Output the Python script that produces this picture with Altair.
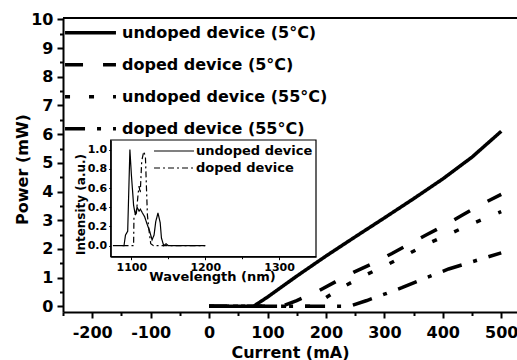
import altair as alt
import pandas as pd

# ---- main data: output power vs current ----
series_names = ["undoped device (5°C)", "doped device (5°C)",
                "undoped device (55°C)", "doped device (55°C)"]

cur_undoped5 = [0, 76, 100, 150, 200, 250, 300, 350, 400, 450, 500]
pow_undoped5 = [0, 0, 0.32, 1.05, 1.75, 2.42, 3.08, 3.75, 4.44, 5.2, 6.1]

cur_doped5 = [0, 125, 150, 184, 216, 247, 276, 313, 339, 373, 398, 433, 461, 500]
pow_doped5 = [0, 0, 0.2, 0.5, 0.85, 1.18, 1.45, 1.84, 2.13, 2.5, 2.77, 3.17, 3.5, 3.9]

cur_undoped55 = [0, 180, 200, 225, 261, 300, 337, 371, 409, 447, 500]
pow_undoped55 = [0, 0, 0.3, 0.63, 1.02, 1.4, 1.78, 2.15, 2.5, 2.85, 3.3]

cur_doped55 = [0, 240, 270, 300, 330, 370, 410, 450, 500]
pow_doped55 = [0, 0, 0.2, 0.42, 0.65, 0.98, 1.3, 1.55, 1.86]

x_ticks = [-250, -200, -150, -100, -50, 0, 50, 100, 150, 200, 250, 300, 350, 400, 450, 500]
y_ticks = [0, 0.5, 1, 1.5, 2, 2.5, 3, 3.5, 4, 4.5, 5, 5.5, 6, 6.5, 7, 7.5, 8, 8.5, 9, 9.5, 10]

# ---- inset data: emission spectra ----
inset_names = ["undoped device", "doped device"]
wl_undoped = [1075, 1090, 1092, 1095, 1098, 1100, 1102, 1103, 1105.4, 1107.7, 1110.4,
              1112.2, 1115, 1118, 1121, 1124.8, 1128, 1130.7, 1133, 1136, 1139,
              1140.7, 1143.8, 1147, 1150, 1200]
int_undoped = [0, 0, 0.11, 0.15, 1.0, 0.74, 0.53, 0.42, 0.32, 0.4, 0.36,
               0.38, 0.34, 0.3, 0.23, 0.15, 0.06, 0.11, 0.25, 0.34, 0.24,
               0.08, 0.0, 0.02, 0, 0]
wl_doped = [1088, 1103, 1103.5, 1106.8, 1109, 1110.4, 1112, 1114, 1116.7, 1119,
            1120.3, 1121.7, 1124, 1126.2, 1130, 1200]
int_doped = [0, 0, 0.3, 0.34, 0.53, 0.62, 0.55, 0.88, 0.98, 0.93,
             0.63, 0.32, 0.15, 0.02, 0, 0]

main_df = pd.concat([
    pd.DataFrame({"current": cur_undoped5, "power": pow_undoped5, "series": series_names[0]}),
    pd.DataFrame({"current": cur_doped5, "power": pow_doped5, "series": series_names[1]}),
    pd.DataFrame({"current": cur_undoped55, "power": pow_undoped55, "series": series_names[2]}),
    pd.DataFrame({"current": cur_doped55, "power": pow_doped55, "series": series_names[3]}),
], ignore_index=True)

inset_df = pd.concat([
    pd.DataFrame({"wl": wl_undoped, "intensity": int_undoped, "device": inset_names[0]}),
    pd.DataFrame({"wl": wl_doped, "intensity": int_doped, "device": inset_names[1]}),
], ignore_index=True)

FONT = "DejaVu Sans"
W, H = 454, 294

main_lines = alt.Chart(main_df).mark_line(strokeWidth=3.5, color="black", clip=True).encode(
    x=alt.X("current:Q",
            scale=alt.Scale(domain=[-250, 527], nice=False, zero=False),
            axis=alt.Axis(values=x_ticks, title="Current (mA)",
                          labelExpr="datum.value % 100 === 0 ? '' + datum.value : ''",
                          tickSize={"condition": {"test": "datum.value % 100 === 0", "value": 6}, "value": 3.5},
                          labelPadding=6, labelFlush=False, labelOverlap=False, labelBound=False,
                          labelFont=FONT, labelFontSize=16, labelFontWeight="bold", labelColor="black",
                          titleFont=FONT, titleFontSize=16, titleFontWeight="bold", titleColor="black",
                          titleX=227, titleY=45, titleBaseline="alphabetic", titleAlign="center",
                          domainColor="black", domainWidth=2, tickColor="black", tickWidth=2,
                          grid=False)),
    y=alt.Y("power:Q",
            scale=alt.Scale(domain=[-0.2, 10.05], nice=False, zero=False),
            axis=alt.Axis(values=y_ticks, title="Power (mW)",
                          labelExpr="datum.value % 1 === 0 ? '' + datum.value : ''",
                          tickSize={"condition": {"test": "datum.value % 1 === 0", "value": 6}, "value": 3.5},
                          labelPadding=4, labelOverlap=False, labelBound=False, labelFlush=False,
                          labelFont=FONT, labelFontSize=16, labelFontWeight="bold", labelColor="black",
                          titleFont=FONT, titleFontSize=16, titleFontWeight="bold", titleColor="black",
                          titleX=-36, titleY=151, titleAngle=270, titleBaseline="alphabetic",
                          titleAlign="center",
                          domainColor="black", domainWidth=2, tickColor="black", tickWidth=2,
                          grid=False)),
    strokeDash=alt.StrokeDash("series:N",
                              scale=alt.Scale(domain=series_names,
                                              range=[[1, 0], [18, 20], [5, 19], [20, 12, 4, 12]]),
                              legend=alt.Legend(orient="none", legendX=4, legendY=-8.7, title=None,
                                                symbolType="M-1.19,0H1.19", symbolSize=1832,
                                                symbolStrokeWidth=3.5, symbolStrokeColor="black",
                                                labelFont=FONT, labelFontSize=16, labelFontWeight="bold",
                                                labelColor="black", labelOffset=8, rowPadding=0,
                                                padding=0, labelLimit=400)),
)

frame_df = pd.DataFrame({"k": [0]})
top_rule = alt.Chart(frame_df).mark_rule(color="black", strokeWidth=2).encode(
    x=alt.value(0), x2=alt.value(W), y=alt.value(0)
)

inset_box = alt.Chart(frame_df).mark_rect(fill="white", stroke="black", strokeWidth=1.2).encode(
    x=alt.value(47.7), x2=alt.value(253), y=alt.value(122), y2=alt.value(238.7)
)

inset_lines = alt.Chart(inset_df).mark_line(strokeWidth=1.2, color="black").encode(
    x=alt.X("wl:Q",
            scale=alt.Scale(domain=[1072, 1350], range=[47.7, 253], nice=False, zero=False),
            axis=alt.Axis(orient="bottom", offset=-(H - 238.7), values=[1100, 1150, 1200, 1250, 1300],
                          labelExpr="datum.value % 100 === 0 ? '' + datum.value : ''",
                          tickSize={"condition": {"test": "datum.value % 100 === 0", "value": 3}, "value": 2},
                          labelPadding=2, labelFlush=False, labelOverlap=False, labelBound=False,
                          labelFont=FONT, labelFontSize=11, labelFontWeight="bold", labelColor="black",
                          title="Wavelength (nm)", titleFont=FONT, titleFontSize=13,
                          titleFontWeight="bold", titleColor="black",
                          titleX=149, titleY=23.3, titleBaseline="alphabetic", titleAlign="center",
                          domainColor="black", domainWidth=1.2, tickColor="black", tickWidth=1,
                          grid=False, zindex=1)),
    y=alt.Y("intensity:Q",
            scale=alt.Scale(domain=[-0.115, 1.1], range=[238.7, 122], nice=False, zero=False),
            axis=alt.Axis(orient="left", offset=-47.7, values=[0, 0.2, 0.4, 0.6, 0.8, 1.0],
                          format=".1f", tickSize=2, labelPadding=2,
                          labelOverlap=False, labelBound=False, labelFlush=False,
                          labelFont=FONT, labelFontSize=11, labelFontWeight="bold", labelColor="black",
                          title="Intensity (a.u.)", titleFont=FONT, titleFontSize=12,
                          titleFontWeight="bold", titleColor="black",
                          titleX=-26.2, titleY=186, titleAngle=270, titleBaseline="alphabetic",
                          titleAlign="center",
                          domainColor="black", domainWidth=1.2, tickColor="black", tickWidth=1,
                          grid=False, zindex=1)),
    strokeDash=alt.StrokeDash("device:N",
                              scale=alt.Scale(domain=inset_names, range=[[1, 0], [6, 3, 2, 3]]),
                              legend=alt.Legend(orient="none", legendX=101, legendY=123, title=None,
                                                symbolType="M-2.22,0H2.22", symbolSize=324,
                                                symbolStrokeWidth=1.2, symbolStrokeColor="black",
                                                labelFont=FONT, labelFontSize=13, labelFontWeight="bold",
                                                labelColor="black", labelOffset=12, rowPadding=0,
                                                padding=0, labelLimit=300)),
)

chart = alt.layer(main_lines, top_rule, inset_box, inset_lines).resolve_scale(
    x="independent", y="independent", strokeDash="independent"
).properties(
    width=W, height=H,
    padding={"left": 63, "top": 18, "right": 0, "bottom": 48},
    autosize=alt.AutoSizeParams(type="none"),
    background="white",
).configure_view(stroke=None)

chart.save("out.html", embed_options={"renderer": "svg", "actions": False})
